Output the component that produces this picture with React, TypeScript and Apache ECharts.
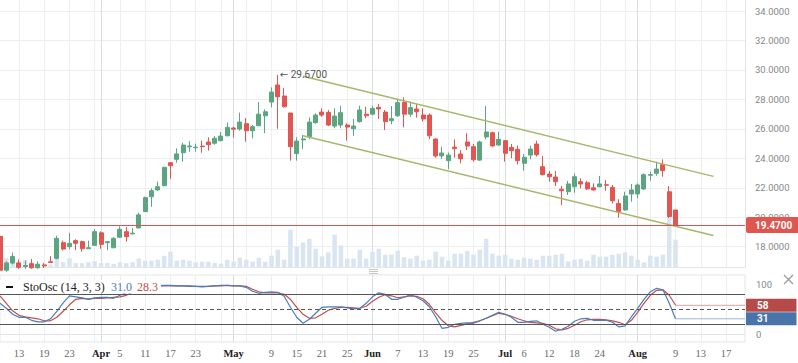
import React, { useEffect, useRef } from 'react';
import * as echarts from 'echarts';

// One slot per trading session. Slot 0 is the partly hidden first session,
// slot 107 is the last session (Aug 9); slots 108..118 are empty future space.
const SLOT_COUNT = 119;

// [open, close, low, high] for slots 0..107
const candles: number[][] = [
  [18.7, 16.4, 16.3, 18.7], [16.4, 16.9, 16.3, 17.0], [16.89, 17.34, 16.8, 17.6], [16.9, 16.6, 16.5, 17.14],
  [16.65, 16.72, 16.5, 17.05], [16.84, 16.57, 16.5, 17.16], [16.57, 16.8, 16.5, 17.0], [16.76, 16.7, 16.55, 16.9],
  [16.98, 16.93, 16.93, 17.37], [17.21, 18.57, 17.14, 18.75], [18.27, 17.84, 17.73, 18.41], [18.0, 18.23, 17.82, 18.94],
  [18.41, 18.23, 17.77, 18.5], [18.34, 17.86, 17.66, 18.41], [17.86, 17.93, 17.86, 18.41], [18.09, 19.02, 18.05, 19.19],
  [18.94, 18.16, 17.86, 19.04], [18.27, 18.34, 17.77, 18.36], [17.93, 18.57, 17.89, 18.64], [18.64, 19.18, 18.6, 19.38],
  [19.02, 18.68, 18.34, 19.34], [18.87, 18.92, 18.84, 19.27], [19.27, 20.16, 19.25, 20.31], [20.38, 21.33, 20.35, 21.4],
  [21.39, 21.8, 20.71, 21.96], [21.85, 22.07, 21.8, 22.41], [22.14, 23.39, 22.1, 23.42], [23.7, 23.5, 22.6, 23.72],
  [23.93, 24.3, 23.7, 24.68], [24.38, 24.9, 23.77, 25.06], [24.78, 24.84, 24.45, 25.17], [24.72, 24.76, 24.45, 25.0],
  [24.83, 24.79, 24.38, 25.2], [25.11, 24.92, 24.52, 25.43], [25.02, 25.36, 24.92, 25.51], [25.2, 25.51, 25.15, 25.79],
  [25.53, 26.1, 25.5, 26.44], [26.06, 25.98, 25.4, 26.15], [25.99, 26.46, 25.87, 27.1], [26.35, 25.87, 25.13, 26.74],
  [25.87, 26.15, 25.36, 26.26], [26.21, 27.0, 26.2, 27.82], [26.89, 27.16, 25.7, 27.33], [27.82, 28.5, 27.46, 28.82],
  [28.98, 28.18, 26.01, 29.67], [28.23, 27.5, 27.44, 28.79], [27.08, 24.79, 23.84, 27.08], [24.32, 25.17, 23.84, 25.43],
  [25.25, 25.32, 24.63, 25.58], [25.47, 26.46, 25.29, 26.78], [26.42, 26.94, 26.35, 27.05], [27.14, 26.94, 26.82, 27.39],
  [27.12, 26.26, 26.19, 27.28], [26.19, 26.87, 26.04, 27.39], [26.26, 27.1, 26.04, 27.57], [26.26, 26.12, 25.2, 26.38],
  [26.01, 26.19, 25.53, 26.67], [26.49, 27.28, 26.42, 27.57], [27.0, 26.89, 26.72, 27.5], [27.0, 27.39, 26.94, 27.57],
  [27.46, 27.35, 26.67, 27.69], [27.14, 26.49, 25.92, 27.28], [26.55, 26.69, 26.31, 27.55], [26.89, 27.78, 26.82, 28.0],
  [27.8, 27.0, 26.1, 28.14], [27.0, 27.44, 26.82, 27.84], [27.35, 27.16, 26.76, 27.69], [26.94, 26.67, 26.49, 27.39],
  [26.94, 25.53, 25.31, 27.05], [25.31, 24.16, 24.04, 25.35], [24.16, 24.36, 23.95, 24.79], [23.84, 24.22, 23.27, 24.4],
  [24.76, 24.66, 24.04, 25.29], [24.29, 23.97, 23.66, 24.56], [25.11, 24.84, 24.56, 25.7], [24.79, 23.9, 23.77, 24.97],
  [23.88, 25.11, 23.82, 25.2], [25.45, 25.79, 25.29, 27.55], [25.74, 24.84, 24.79, 25.81], [24.9, 25.29, 24.86, 25.81],
  [25.2, 24.34, 23.77, 25.24], [24.74, 24.52, 24.0, 24.97], [24.61, 23.84, 23.59, 24.86], [23.66, 24.07, 23.16, 24.29],
  [24.22, 24.63, 23.93, 24.86], [24.97, 24.24, 24.11, 25.2], [23.43, 22.89, 22.84, 24.16], [22.93, 22.75, 22.41, 23.14],
  [22.73, 22.41, 22.12, 23.14], [21.9, 21.8, 20.83, 22.12], [21.73, 22.26, 21.51, 22.46], [22.07, 22.75, 21.67, 22.98],
  [22.41, 22.26, 21.96, 22.64], [22.34, 21.92, 21.85, 22.48], [22.0, 21.85, 21.8, 22.3], [22.07, 22.26, 22.03, 22.8],
  [22.21, 22.17, 21.8, 22.53], [22.03, 21.12, 20.94, 22.19], [20.94, 20.38, 19.97, 21.22], [20.49, 21.44, 20.45, 21.73],
  [21.58, 21.85, 21.05, 22.26], [21.58, 22.19, 21.28, 22.3], [21.92, 22.89, 21.85, 22.98], [22.85, 22.9, 22.48, 23.09],
  [22.98, 23.27, 22.82, 23.77], [23.57, 23.16, 22.75, 23.93], [21.73, 20.05, 19.95, 22.12], [20.49, 19.47, 19.45, 20.49],
];

// volume (millions) for slots 0..107
const volumes: number[] = [
  0.9, 0.9, 0.6, 0.5, 0.7, 0.5, 0.35, 0.32, 0.25, 0.9,
  0.48, 0.88, 0.38, 0.38, 0.48, 0.58, 0.38, 0.38, 0.32, 0.48,
  0.38, 0.48, 0.85, 0.63, 0.63, 0.73, 1.13, 1.53, 0.63, 0.73,
  0.63, 0.46, 0.53, 0.53, 0.4, 0.33, 0.73, 0.53, 0.93, 0.73,
  0.53, 0.93, 0.53, 1.13, 1.73, 0.73, 3.73, 2.0, 2.46, 2.83,
  1.83, 1.06, 1.46, 3.23, 2.16, 0.83, 0.83, 1.73, 0.83, 1.53,
  1.83, 1.23, 1.23, 1.63, 0.97, 0.83, 1.13, 0.63, 0.73, 1.53,
  1.03, 0.63, 1.33, 1.33, 1.63, 1.23, 1.73, 2.83, 1.33, 1.13,
  1.23, 0.83, 0.73, 0.93, 0.83, 0.73, 1.13, 1.13, 1.23, 1.33,
  0.56, 0.73, 0.83, 0.63, 1.23, 1.03, 1.03, 1.23, 1.33, 1.46,
  1.13, 0.73, 0.46, 1.13, 1.03, 1.23, 5.5, 2.73,
];

// Stochastic oscillator (14, 3, 3): %K (blue) and %D (red), slots 0..107
const stochK: number[] = [
  62, 52, 40, 34, 34, 28, 25, 25, 31, 46,
  63, 77, 75, 73, 70, 73, 74, 74, 72, 78,
  83, 88, 92, 95, 97, 97, 98, 98, 97, 97,
  96, 96, 95, 96, 97, 98, 98, 97, 97, 94,
  86, 82, 84, 85, 84, 76, 54, 34, 22, 30,
  42, 54, 55, 55, 55, 53, 51, 52, 62, 75,
  83, 80, 70, 70, 74, 79, 74, 67, 55, 35,
  12, 14, 20, 22, 23, 22, 27, 32, 38, 44,
  40, 34, 24, 24, 26, 27, 20, 14, 6, 10,
  16, 26, 31, 32, 28, 28, 28, 24, 15, 17,
  35, 52, 70, 85, 92, 89, 62, 31,
];
const stochD: number[] = [
  77, 62, 47, 38, 35, 33, 31, 27, 27, 34,
  46, 59, 70, 72, 71, 72, 72, 73, 74, 75,
  78, 84, 89, 93, 96, 97, 97, 97, 97, 97,
  97, 96, 96, 96, 97, 97, 98, 97, 97, 96,
  90, 85, 83, 83, 83, 80, 70, 54, 40, 32,
  33, 40, 48, 52, 54, 54, 53, 52, 56, 66,
  74, 79, 77, 73, 75, 77, 76, 71, 60, 43,
  28, 17, 15, 18, 21, 24, 27, 32, 37, 42,
  40, 36, 31, 27, 24, 23, 22, 18, 11, 9,
  12, 18, 25, 29, 30, 30, 29, 27, 24, 19,
  28, 44, 62, 78, 88, 89, 78, 58,
];

// x-axis tick labels: [slot, text]
const tickLabels: [number, string][] = [
  [3, '13'], [7, '19'], [11, '23'], [16, 'Apr'], [19, '5'], [23, '11'], [27, '17'], [31, '23'],
  [37, 'May'], [43, '9'], [47, '15'], [51, '21'], [55, '25'], [59, 'Jun'], [63, '7'], [67, '13'],
  [71, '19'], [75, '25'], [80, 'Jul'], [83, '6'], [87, '12'], [91, '18'], [95, '24'], [101, 'Aug'],
  [107, '9'], [111, '13'], [115, '17'],
];
const gridSlots: number[] = [3, 7, 11, 15, 19, 23, 27, 31, 35, 39, 43, 47, 51, 55, 59, 63, 67, 71, 75, 79, 83, 87, 91, 95, 99, 103, 107, 111, 115];
const monthSlots: number[] = [16, 37, 59, 80, 101];
const monthNames: string[] = ['Apr', 'May', 'Jun', 'Jul', 'Aug'];

const lastPrice = 19.47;
const highPoint: [number, number] = [44, 29.67];
const channelUpper: [number, number][] = [[48, 29.57], [113, 22.77]];
const channelLower: [number, number][] = [[48, 25.53], [113, 18.76]];
const lastSlot = 107;
const stochLastK = 31;
const stochLastD = 58;
const stochLegendD = '28.3';
const stochLevels = { upper: 80, middle: 50, lower: 20 };

const UP = '#5ba681';
const DOWN = '#e25550';
const BLUE = '#4a7dbd';
const RED = '#c0504d';
const SANS = 'Roboto, "DejaVu Sans", sans-serif';
const SERIF = '"Liberation Serif", "DejaVu Serif", serif';

function buildOption() {
  const cats = Array.from({ length: SLOT_COUNT }, (_, i) => String(i));
  const gridSet = new Set(gridSlots);
  const monthSet = new Set(monthSlots);
  const labelMap = new Map<number, string>(tickLabels);
  const monthNameSet = new Set(monthNames);

  const baseX = (gridIndex: number, position: string) => ({
    type: 'category',
    gridIndex,
    position,
    data: cats,
    boundaryGap: false,
    axisLine: { show: false },
    axisTick: { show: false },
    axisLabel: { show: false },
  });

  const priceLineStyle = { color: '#d9534f', width: 1.2, type: 'solid', opacity: 1 };

  return {
    animation: false,
    backgroundColor: '#ffffff',
    textStyle: { fontFamily: SANS },
    grid: [
      { left: 0, right: 53, top: 0, height: 267, containLabel: false, outerBoundsMode: 'none', show: false },
      {
        left: 0, right: 53, top: 275, height: 67, containLabel: false, outerBoundsMode: 'none',
        show: true, borderColor: '#e3e5e8', borderWidth: 1, backgroundColor: 'transparent',
      },
    ],
    xAxis: [
      {
        ...baseX(0, 'bottom'),
        axisLine: { show: true, lineStyle: { color: '#e3e5e8' } },
        splitLine: { show: true, interval: (i: number) => gridSet.has(i), lineStyle: { color: '#eceef1', width: 1 } },
      },
      {
        ...baseX(0, 'top'),
        splitLine: { show: true, interval: (i: number) => monthSet.has(i), lineStyle: { color: '#d9dce0', width: 1 } },
      },
      {
        ...baseX(1, 'bottom'),
        splitLine: { show: true, interval: (i: number) => gridSet.has(i), lineStyle: { color: '#eceef1', width: 1 } },
        axisLabel: {
          show: true,
          interval: (i: number) => labelMap.has(i),
          margin: 6,
          hideOverlap: false,
          formatter: (v: string) => {
            const t = labelMap.get(Number(v)) || '';
            return monthNameSet.has(t) ? `{m|${t}}` : `{d|${t}}`;
          },
          rich: {
            m: { fontFamily: SERIF, fontWeight: 'bold', fontSize: 10.5, color: '#222' },
            d: { fontFamily: SERIF, fontSize: 10.5, color: '#6a6a6a' },
          },
        },
      },
      {
        ...baseX(1, 'top'),
        splitLine: { show: true, interval: (i: number) => monthSet.has(i), lineStyle: { color: '#d9dce0', width: 1 } },
      },
    ],
    yAxis: [
      {
        type: 'value',
        gridIndex: 0,
        position: 'right',
        min: 16.62,
        max: 34.75,
        splitNumber: 9,
        axisLine: { show: true, lineStyle: { color: '#e3e5e8' } },
        axisTick: { show: false },
        axisLabel: {
          color: '#888',
          fontSize: 9.5,
          fontFamily: SANS,
          margin: 10,
          hideOverlap: false,
          formatter: (v: number) => {
            const r = Math.round(v);
            return Math.abs(v - r) < 1e-6 && r % 2 === 0 ? v.toFixed(4) : '';
          },
        },
        splitLine: { show: true, showMinLine: false, showMaxLine: false, lineStyle: { color: '#eceef1' } },
      },
      {
        type: 'value',
        gridIndex: 0,
        min: 0,
        max: 26.7,
        show: false,
        splitLine: { show: false },
      },
      {
        type: 'value',
        gridIndex: 1,
        position: 'right',
        min: -15.4,
        max: 118.6,
        splitNumber: 3,
        axisLine: { show: false },
        axisTick: { show: false },
        splitLine: { show: false },
        axisLabel: {
          color: '#888',
          fontSize: 9.5,
          fontFamily: SANS,
          margin: 11,
          hideOverlap: false,
          formatter: (v: number) => (Math.abs(v) < 1e-6 || Math.abs(v - 100) < 1e-6 ? String(Math.round(v)) : ''),
        },
      },
    ],
    series: [
      {
        name: 'Volume',
        type: 'bar',
        xAxisIndex: 0,
        yAxisIndex: 1,
        data: volumes,
        barWidth: 4.5,
        silent: true,
        z: 1,
        itemStyle: { color: '#d9e5f1' },
      },
      {
        name: 'Price',
        type: 'candlestick',
        xAxisIndex: 0,
        yAxisIndex: 0,
        data: candles,
        barWidth: 4.5,
        silent: true,
        z: 3,
        itemStyle: { color: UP, color0: DOWN, borderColor: UP, borderColor0: DOWN, borderWidth: 1 },
        markLine: {
          silent: true,
          symbol: ['none', 'none'],
          lineStyle: priceLineStyle,
          emphasis: { disabled: true },
          label: {
            show: true,
            position: 'end',
            distance: 1,
            formatter: lastPrice.toFixed(4),
            color: '#fff',
            backgroundColor: '#e0564f',
            fontWeight: 'bold',
            fontSize: 10,
            fontFamily: SANS,
            padding: [3, 8, 3, 9],
            borderRadius: 2,
          },
          data: [{ yAxis: lastPrice, lineStyle: priceLineStyle }],
        },
        markPoint: {
          silent: true,
          symbol: 'circle',
          symbolSize: 0,
          itemStyle: { color: 'transparent' },
          label: {
            show: true,
            position: 'right',
            distance: 2,
            formatter: '\u2190 ' + highPoint[1].toFixed(4),
            color: '#555',
            fontSize: 10,
            fontFamily: SANS,
          },
          data: [{ coord: highPoint }],
        },
      },
      {
        name: 'Channel upper',
        type: 'line',
        xAxisIndex: 0,
        yAxisIndex: 0,
        data: channelUpper,
        symbol: 'none',
        silent: true,
        z: 4,
        lineStyle: { color: '#a4b86a', width: 1.4 },
      },
      {
        name: 'Channel lower',
        type: 'line',
        xAxisIndex: 0,
        yAxisIndex: 0,
        data: channelLower,
        symbol: 'none',
        silent: true,
        z: 4,
        lineStyle: { color: '#a4b86a', width: 1.4 },
      },
      {
        name: '%D',
        type: 'line',
        xAxisIndex: 2,
        yAxisIndex: 2,
        data: stochD,
        symbol: 'none',
        silent: true,
        z: 3,
        lineStyle: { color: RED, width: 1.2 },
        markLine: {
          silent: true,
          symbol: ['none', 'none'],
          label: { show: false },
          emphasis: { disabled: true },
          data: [
            { yAxis: stochLevels.upper, lineStyle: { color: '#555', width: 1, type: 'solid' } },
            { yAxis: stochLevels.middle, lineStyle: { color: '#555', width: 1, type: [4, 3] } },
            { yAxis: stochLevels.lower, lineStyle: { color: '#555', width: 1, type: 'solid' } },
            { yAxis: 0, lineStyle: { color: '#e3e5e8', width: 1, type: 'solid' } },
          ],
        },
      },
      {
        name: '%K',
        type: 'line',
        xAxisIndex: 2,
        yAxisIndex: 2,
        data: stochK,
        symbol: 'none',
        silent: true,
        z: 4,
        lineStyle: { color: BLUE, width: 1.2 },
      },
      {
        name: '%D last',
        type: 'line',
        xAxisIndex: 2,
        yAxisIndex: 2,
        data: [[lastSlot, stochLastD], [SLOT_COUNT - 1, stochLastD]],
        symbol: 'none',
        silent: true,
        z: 3,
        lineStyle: { color: '#dba3a2', width: 1 },
        endLabel: {
          show: true,
          formatter: String(stochLastD),
          distance: 1,
          color: '#fff',
          backgroundColor: '#b54a48',
          fontWeight: 'bold',
          fontSize: 10,
          fontFamily: SANS,
          padding: [2, 28, 1, 11],
        },
      },
      {
        name: '%K last',
        type: 'line',
        xAxisIndex: 2,
        yAxisIndex: 2,
        data: [[lastSlot, stochLastK], [SLOT_COUNT - 1, stochLastK]],
        symbol: 'none',
        silent: true,
        z: 3,
        lineStyle: { color: '#9db7da', width: 1 },
        endLabel: {
          show: true,
          formatter: String(stochLastK),
          distance: 1,
          color: '#fff',
          backgroundColor: '#4a73a9',
          fontWeight: 'bold',
          fontSize: 10,
          fontFamily: SANS,
          padding: [2, 28, 1, 11],
        },
      },
    ],
    graphic: [
      { type: 'rect', z: 100, shape: { x: 0, y: 280, width: 161, height: 13.5 }, style: { fill: '#fff' } },
      { type: 'line', z: 101, shape: { x1: 6, y1: 287, x2: 13, y2: 287 }, style: { stroke: '#111', lineWidth: 2 } },
      {
        type: 'text', z: 101, x: 23, y: 287,
        style: { text: 'StoOsc (14, 3, 3)', fill: '#222', font: `12px ${SERIF}`, verticalAlign: 'middle' },
      },
      {
        type: 'text', z: 101, x: 111, y: 287,
        style: { text: stochK[stochK.length - 1].toFixed(1), fill: BLUE, font: `12px ${SERIF}`, verticalAlign: 'middle' },
      },
      {
        type: 'text', z: 101, x: 137, y: 287,
        style: { text: stochLegendD, fill: RED, font: `12px ${SERIF}`, verticalAlign: 'middle' },
      },
      { type: 'line', z: 101, shape: { x1: 369, y1: 269.5, x2: 378, y2: 269.5 }, style: { stroke: '#c4c4c4', lineWidth: 1 } },
      { type: 'line', z: 101, shape: { x1: 369, y1: 271.5, x2: 378, y2: 271.5 }, style: { stroke: '#c4c4c4', lineWidth: 1 } },
      { type: 'line', z: 101, shape: { x1: 369, y1: 273.5, x2: 378, y2: 273.5 }, style: { stroke: '#c4c4c4', lineWidth: 1 } },
      { type: 'line', z: 101, shape: { x1: 784, y1: 275, x2: 793, y2: 284 }, style: { stroke: '#9a9a9a', lineWidth: 1.2 } },
      { type: 'line', z: 101, shape: { x1: 793, y1: 275, x2: 784, y2: 284 }, style: { stroke: '#9a9a9a', lineWidth: 1.2 } },
    ],
  };
}

export default function App() {
  const ref = useRef<HTMLDivElement>(null);
  useEffect(() => {
    document.body.style.margin = '0';
    const chart = echarts.init(ref.current as HTMLDivElement, null, { renderer: 'svg' });
    chart.setOption(buildOption() as any);
    return () => chart.dispose();
  }, []);
  return <div ref={ref} style={{ width: 798, height: 363 }} />;
}
